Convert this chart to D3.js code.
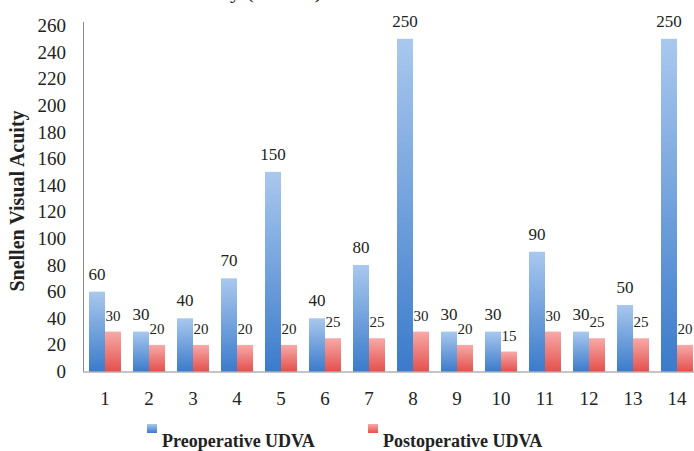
<!DOCTYPE html>
<html>
<head>
<meta charset="utf-8">
<script src="https://cdn.jsdelivr.net/npm/d3@7"></script>
<style>
  html, body { margin: 0; padding: 0; background: #fff; }
  svg { display: block; }
  svg text { font-family: "Liberation Serif", "Tinos", "Times New Roman" !important; fill: #222; }
</style>
</head>
<body>
<svg id="chart" width="694" height="451"></svg>
<script>
// Patient cases 1..14
const cases = ["1","2","3","4","5","6","7","8","9","10","11","12","13","14"];
// Snellen denominators (20/x)
const preopUDVA  = [60, 30, 40, 70, 150, 40, 80, 250, 30, 30, 90, 30, 50, 250];
const postopUDVA = [30, 20, 20, 20, 20, 25, 25, 30, 20, 15, 30, 25, 25, 20];
const yTicks = d3.range(0, 261, 20);
const seriesNames = ["Preoperative UDVA", "Postoperative UDVA"];

const svg = d3.select("#chart");

// Gradient fills for the two series
const defs = svg.append("defs");
function vGrad(id, top, bottom) {
  const g = defs.append("linearGradient").attr("id", id)
    .attr("x1", 0).attr("y1", 0).attr("x2", 0).attr("y2", 1);
  g.append("stop").attr("offset", "0%").attr("stop-color", top);
  g.append("stop").attr("offset", "100%").attr("stop-color", bottom);
}
vGrad("gPre", "#a9c8ee", "#3b7bcb");
vGrad("gPost", "#f7aaa8", "#e4504c");

const x0 = 83, plotBottom = 371.5, plotTop = 25.5;

const x = d3.scaleBand().domain(cases).range([x0, x0 + 44 * cases.length])
  .paddingInner(12 / 44).paddingOuter(6 / 44);
const xSub = d3.scaleBand().domain([0, 1]).range([0, x.bandwidth()]);
const y = d3.scaleLinear().domain([0, 260]).range([plotBottom, plotTop]);

function textStyle(sel, size, weight) {
  sel.attr("font-size", size).attr("font-weight", weight || "normal");
  return sel;
}

// Partial title line at the very top
svg.append("text")
  .attr("x", 322).attr("y", -2)
  .attr("text-anchor", "end")
  .call(textStyle, 22)
  .text("Uncorrected Distance Visual Acuity (UDVA)");

// Y axis
const yAxis = d3.axisLeft(y).tickValues(yTicks).tickSize(0).tickPadding(17);
const gy = svg.append("g").attr("transform", `translate(${x0},0)`).call(yAxis);
gy.attr("font-family", null).attr("font-size", null);
gy.select(".domain").remove();
gy.selectAll("text").call(textStyle, 19);
svg.append("line").attr("x1", x0 + 0.5).attr("x2", x0 + 0.5)
  .attr("y1", 22).attr("y2", plotBottom).attr("stroke", "#8a8a8a").attr("stroke-width", 1);

// X axis
const xAxis = d3.axisBottom(x).tickSize(0).tickPadding(20);
const gx = svg.append("g").attr("transform", `translate(0,${plotBottom})`).call(xAxis);
gx.attr("font-family", null).attr("font-size", null);
gx.select(".domain").remove();
gx.selectAll("text").call(textStyle, 19);
svg.append("line").attr("x1", x0).attr("x2", 694)
  .attr("y1", plotBottom + 0.5).attr("y2", plotBottom + 0.5)
  .attr("stroke", "#8a8a8a").attr("stroke-width", 1);

// Bars
const groups = svg.append("g").selectAll("g").data(cases).join("g")
  .attr("transform", d => `translate(${x(d)},0)`);

groups.append("rect")
  .attr("x", xSub(0)).attr("width", xSub.bandwidth())
  .attr("y", (d, i) => y(preopUDVA[i]))
  .attr("height", (d, i) => y(0) - y(preopUDVA[i]))
  .attr("fill", "url(#gPre)");

groups.append("rect")
  .attr("x", xSub(1)).attr("width", xSub.bandwidth())
  .attr("y", (d, i) => y(postopUDVA[i]))
  .attr("height", (d, i) => y(0) - y(postopUDVA[i]))
  .attr("fill", "url(#gPost)");

// Value labels
groups.append("text")
  .attr("x", xSub(0) + xSub.bandwidth() / 2)
  .attr("y", (d, i) => y(preopUDVA[i]) - 12)
  .attr("text-anchor", "middle")
  .call(textStyle, 17)
  .text((d, i) => preopUDVA[i]);

groups.append("text")
  .attr("x", xSub(1) + xSub.bandwidth() / 2)
  .attr("y", (d, i) => y(postopUDVA[i]) - 11)
  .attr("text-anchor", "middle")
  .call(textStyle, 15)
  .text((d, i) => postopUDVA[i]);

// Y axis title
svg.append("text")
  .attr("transform", "translate(24,201) rotate(-90)")
  .attr("text-anchor", "middle")
  .call(textStyle, 20, "bold")
  .text("Snellen Visual Acuity");

// Legend
const legend = [
  { name: seriesNames[0], fill: "url(#gPre)", x: 147 },
  { name: seriesNames[1], fill: "url(#gPost)", x: 368 }
];
const lg = svg.append("g").selectAll("g").data(legend).join("g")
  .attr("transform", d => `translate(${d.x},0)`);
lg.append("rect").attr("x", 0).attr("y", 424).attr("width", 10).attr("height", 9)
  .attr("fill", d => d.fill);
lg.append("text").attr("x", 15).attr("y", 447)
  .call(textStyle, 18, "bold")
  .text(d => d.name);
</script>
</body>
</html>
